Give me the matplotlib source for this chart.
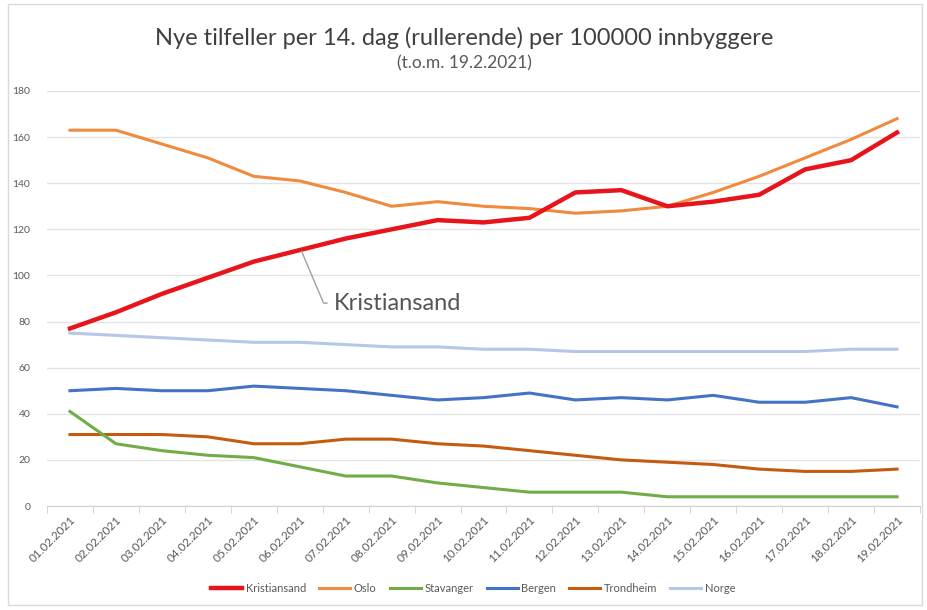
import numpy as np
import matplotlib.pyplot as plt
from matplotlib.patches import Rectangle

plt.rcParams['font.family'] = ['Lato', 'DejaVu Sans']

dates = ["01.02.2021", "02.02.2021", "03.02.2021", "04.02.2021", "05.02.2021",
         "06.02.2021", "07.02.2021", "08.02.2021", "09.02.2021", "10.02.2021",
         "11.02.2021", "12.02.2021", "13.02.2021", "14.02.2021", "15.02.2021",
         "16.02.2021", "17.02.2021", "18.02.2021", "19.02.2021"]

kristiansand = [77, 84, 92, 99, 106, 111, 116, 120, 124, 123, 125, 136, 137, 130, 132, 135, 146, 150, 162]
oslo = [163, 163, 157, 151, 143, 141, 136, 130, 132, 130, 129, 127, 128, 130, 136, 143, 151, 159, 168]
stavanger = [41, 27, 24, 22, 21, 17, 13, 13, 10, 8, 6, 6, 6, 4, 4, 4, 4, 4, 4]
bergen = [50, 51, 50, 50, 52, 51, 50, 48, 46, 47, 49, 46, 47, 46, 48, 45, 45, 47, 43]
trondheim = [31, 31, 31, 30, 27, 27, 29, 29, 27, 26, 24, 22, 20, 19, 18, 16, 15, 15, 16]
norge = [75, 74, 73, 72, 71, 71, 70, 69, 69, 68, 68, 67, 67, 67, 67, 67, 67, 68, 68]

series = [
    ("Kristiansand", kristiansand, "#e8141b", 3.2),
    ("Oslo", oslo, "#f08a3e", 2.2),
    ("Stavanger", stavanger, "#70ad47", 2.2),
    ("Bergen", bergen, "#4472c4", 2.2),
    ("Trondheim", trondheim, "#c55a11", 2.2),
    ("Norge", norge, "#b4c7e7", 2.2),
]

fig = plt.figure(figsize=(9.28, 6.10), dpi=100)
fig.patches.append(Rectangle((0.009, 0.008), 0.985, 0.985, transform=fig.transFigure,
                             fill=False, edgecolor="#d9d9d9", linewidth=1))
ax = fig.add_axes([47 / 928, 1 - 506 / 610, (920 - 47) / 928, (506 - 91) / 610])

x = np.arange(len(dates))
# draw back-to-front so Kristiansand sits on top
for name, vals, color, lw in series[::-1]:
    ax.plot(x, vals, color=color, linewidth=lw, label=name, solid_joinstyle="round")

ax.set_xlim(-0.5, len(dates) - 0.5)
ax.set_ylim(0, 180)
ax.set_yticks(range(0, 181, 20))
ax.tick_params(axis="y", length=0, labelsize=7.5, labelcolor="#595959", pad=12)
ax.yaxis.grid(True, color="#e3e3e3", linewidth=1)
ax.set_axisbelow(True)

ax.set_xticks(x)
ax.set_xticklabels(dates, rotation=45, ha="right", rotation_mode="anchor",
                   fontsize=8.5, color="#595959")
ax.set_xticks(np.arange(-0.5, len(dates), 1), minor=True)
ax.tick_params(axis="x", which="major", length=0, pad=6)
ax.tick_params(axis="x", which="minor", length=5, color="#d0d0d0")

for side in ["top", "right", "left"]:
    ax.spines[side].set_visible(False)
ax.spines["bottom"].set_color("#d0d0d0")

ax.annotate("Kristiansand", xy=(5.04, 110.5), xytext=(5.75, 88),
            fontsize=17, color="#555555", va="center",
            arrowprops=dict(arrowstyle="-", color="#a0a0a0", linewidth=1,
                            connectionstyle="angle,angleA=0,angleB=-67,rad=0",
                            shrinkA=3, shrinkB=0))

fig.text(0.5, 1 - 38 / 610, "Nye tilfeller per 14. dag (rullerende) per 100000 innbyggere",
         ha="center", va="center", fontsize=17, color="#404040")
fig.text(0.5, 1 - 63 / 610, "(t.o.m. 19.2.2021)", ha="center", va="center",
         fontsize=12.5, color="#595959")

handles, labels = ax.get_legend_handles_labels()
fig.legend(handles[::-1], labels[::-1], loc="center", bbox_to_anchor=(0.51, 1 - 588 / 610),
           ncol=6, frameon=False, fontsize=8, handlelength=2.8, columnspacing=1.2,
           handletextpad=0.3, labelcolor="#595959")

fig.savefig("out.png", dpi=100)
